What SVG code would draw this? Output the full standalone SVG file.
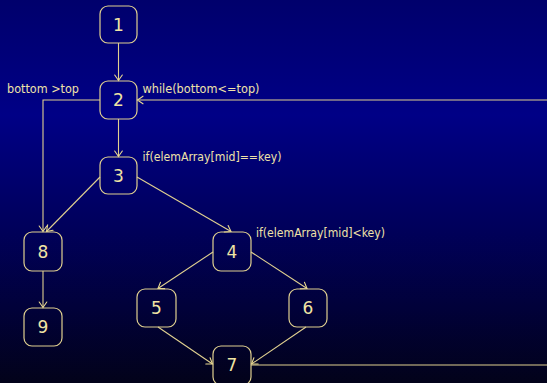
<svg xmlns="http://www.w3.org/2000/svg" width="547" height="383" viewBox="0 0 547 383">
<defs>
<linearGradient id="bg" x1="0" y1="0" x2="0" y2="1">
<stop offset="0" stop-color="#00006c"/>
<stop offset="0.3" stop-color="#000086"/>
<stop offset="0.6" stop-color="#00005a"/>
<stop offset="1" stop-color="#02021a"/>
</linearGradient>
<marker id="arr" viewBox="-7 -5 9 10" markerWidth="9" markerHeight="10" refX="0" refY="0" orient="auto" markerUnits="userSpaceOnUse">
<path d="M-5.5,-3.8 Q-1.5,-1 0,0 Q-1.5,1 -5.5,3.8" fill="none" stroke="#e8d890" stroke-width="1.1" stroke-linecap="round"/>
</marker>
<style>
.node rect{fill:none;stroke:#e0d090;stroke-width:1.2}
.node text{font-family:"DejaVu Sans","Liberation Sans",sans-serif;font-size:17px;fill:#f0e4a4;text-anchor:middle}
.lbl{font-family:"DejaVu Sans","Liberation Sans",sans-serif;font-size:12px;fill:#efe2a8}
.edge{fill:none;stroke:#e0d090;stroke-width:1.1;marker-end:url(#arr)}
</style>
</defs>
<rect x="0" y="0" width="547" height="383" fill="url(#bg)"/>
<g id="connectors">
<path class="edge" d="M118.5,43 V80.5"/>
<path class="edge" d="M118.5,119 V156.5"/>
<path class="edge" d="M100,100 H43 V231.5"/>
<path class="edge" d="M100,177 L46.5,231.5"/>
<path class="edge" d="M137,177 L231,231.5"/>
<path class="edge" d="M213,252 L158,288.5"/>
<path class="edge" d="M251,252 L307,288.5"/>
<path class="edge" d="M158,327 L212.5,364"/>
<path class="edge" d="M306,327 L251.5,364"/>
<path class="edge" d="M43,271 V307.5"/>
<path class="edge" d="M251,365 H560 V100 H137.5"/>
</g>
<g id="n1" class="node"><rect x="100" y="6" width="37" height="37" rx="8"/><text x="118.5" y="30.5">1</text></g>
<g id="n2" class="node"><rect x="100" y="81" width="37" height="38" rx="8"/><text x="118.5" y="106">2</text></g>
<g id="n3" class="node"><rect x="100" y="157" width="37" height="37" rx="8"/><text x="118.5" y="182">3</text></g>
<g id="n4" class="node"><rect x="213" y="232" width="38" height="39" rx="8"/><text x="232" y="257.5">4</text></g>
<g id="n5" class="node"><rect x="137" y="289" width="39" height="38" rx="8"/><text x="156.5" y="314">5</text></g>
<g id="n6" class="node"><rect x="289" y="289" width="38" height="38" rx="8"/><text x="308" y="314">6</text></g>
<g id="n7" class="node"><rect x="213" y="346" width="38" height="39" rx="8"/><text x="232" y="371">7</text></g>
<g id="n8" class="node"><rect x="24" y="232" width="38" height="39" rx="8"/><text x="43" y="257.5">8</text></g>
<g id="n9" class="node"><rect x="24" y="308" width="38" height="38" rx="8"/><text x="43" y="333">9</text></g>
<g id="labels">
<text class="lbl" x="7" y="92.5" textLength="72" lengthAdjust="spacingAndGlyphs">bottom &gt;top</text>
<text class="lbl" x="142.5" y="92.5" textLength="117" lengthAdjust="spacingAndGlyphs">while(bottom&lt;=top)</text>
<text class="lbl" x="142.5" y="160.5" textLength="139" lengthAdjust="spacingAndGlyphs">if(elemArray[mid]==key)</text>
<text class="lbl" x="256" y="236.5" textLength="129" lengthAdjust="spacingAndGlyphs">if(elemArray[mid]&lt;key)</text>
</g>
</svg>
